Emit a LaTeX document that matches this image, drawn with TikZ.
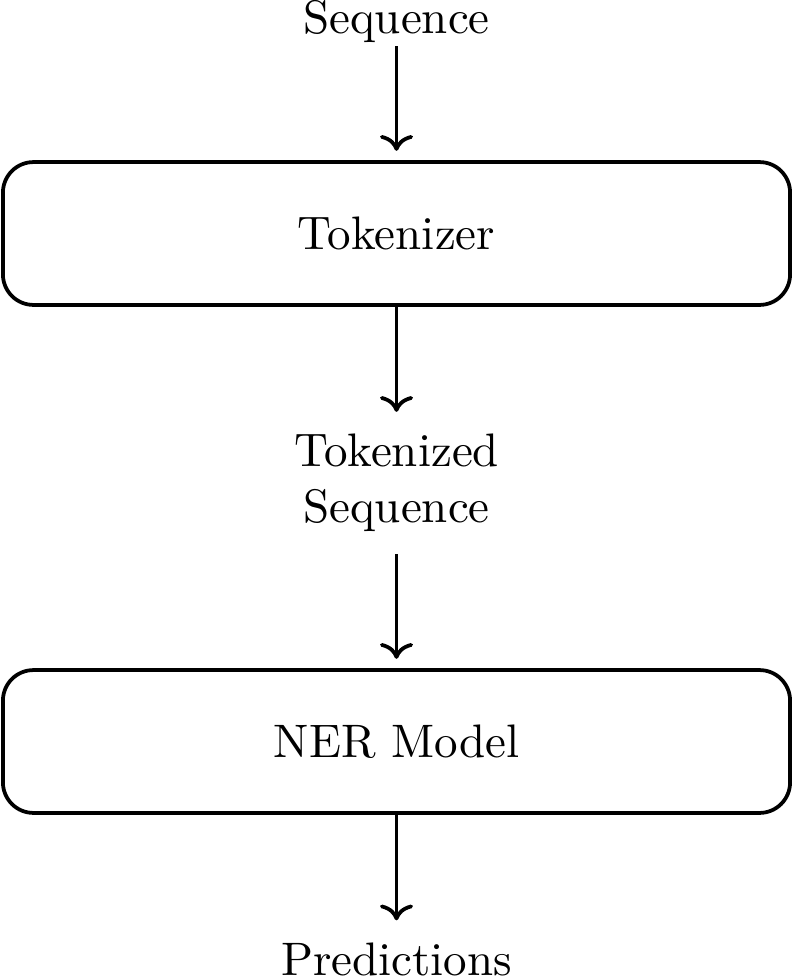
\documentclass[tikz,border=0pt]{standalone}
\usepackage{amsmath, amssymb}
\usepackage{tikz}
\usetikzlibrary{arrows.meta, calc, positioning}

\begin{document}
\begin{tikzpicture}[x=0.2128pt, y=-0.2128pt,
  block/.style={draw, thick, rounded corners=6.5pt, minimum width=167.5pt, minimum height=30.4pt},
  lbl/.style={inner sep=4.5pt, align=center}]
\useasboundingbox (0,0) rectangle (793,978);

\node (Seq) [lbl, inner sep=0.5pt, anchor=base] at (396.5,34) {Sequence};
\node (Tokenizer) [block] at (396.5,233.5) {Tokenizer};
\node (TokSeq) [lbl] at (396.5,483) {Tokenized\\Sequence};
\node (NER) [block] at (396.5,741.5) {NER Model};
\node (Pred) [lbl, anchor=base] at (396.5,975) {Predictions};

\draw[->, thick, shorten >=2pt] (Seq) -- (Tokenizer);
\draw[->, thick] (Tokenizer) -- (TokSeq);
\draw[->, thick, shorten >=2pt] (TokSeq) -- (NER);
\draw[->, thick] (NER) -- (Pred);
\end{tikzpicture}
\end{document}
